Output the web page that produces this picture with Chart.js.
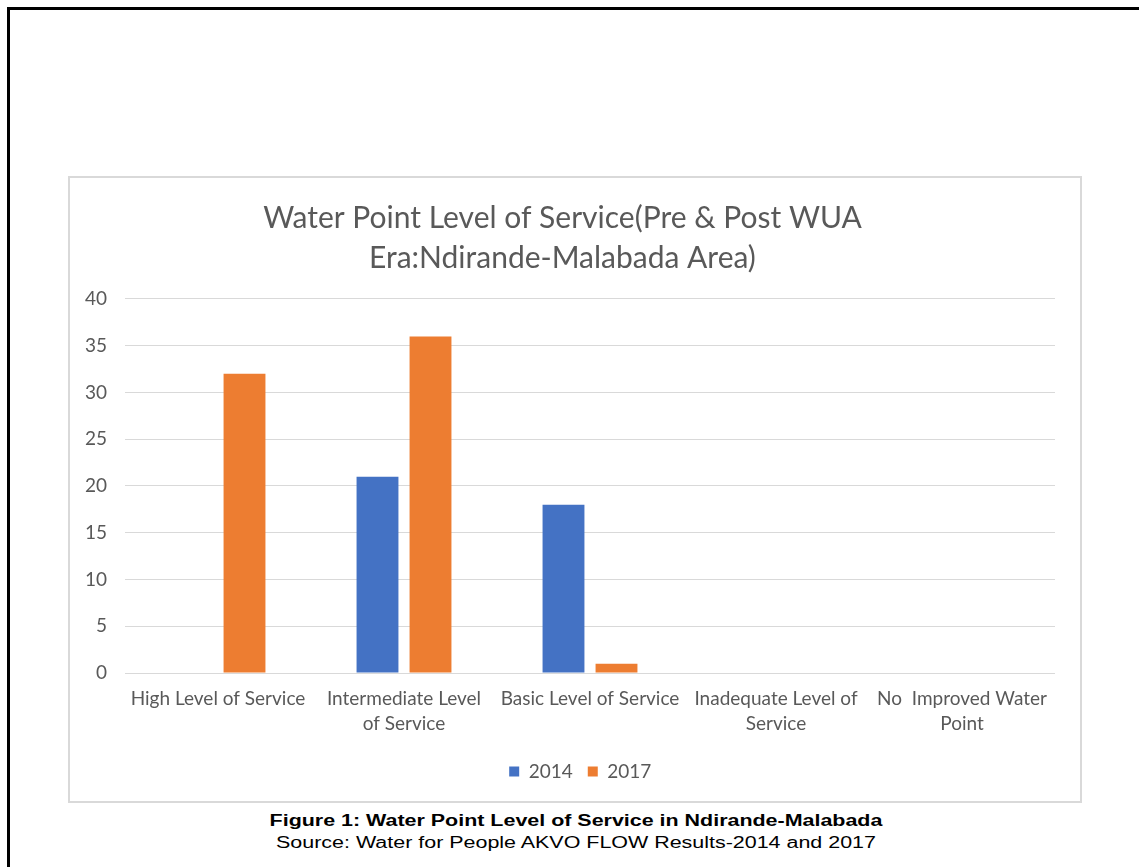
<!DOCTYPE html>
<html>
<head>
<meta charset="utf-8">
<script src="https://cdn.jsdelivr.net/npm/chart.js@4.4.0/dist/chart.umd.min.js"></script>
<style>
  body { margin: 0; background: #fff; width: 1139px; height: 867px; overflow: hidden; position: relative; }
  #frame { position: absolute; left: 7px; top: 7px; width: 1140px; height: 870px; border-top: 3px solid #000; border-left: 3px solid #000; }
  #box { position: absolute; left: 68px; top: 176px; width: 1010px; height: 623px; border: 2px solid #d9d9d9; }
  #caption { position: absolute; left: 0; width: 1152px; top: 810px; text-align: center; font-family: "Liberation Sans", Arial, sans-serif; color: #000; transform: scaleX(1.34); transform-origin: 576px 0; }
  #caption .fig { font-weight: bold; font-size: 16px; line-height: 22px; }
  #caption .src { font-size: 16px; line-height: 22px; }
</style>
</head>
<body>
<div id="frame"></div>
<div id="box"><canvas id="chart" width="1010" height="623"></canvas></div>
<div id="caption">
  <div class="fig">Figure 1: Water Point Level of Service in Ndirande-Malabada</div>
  <div class="src">Source: Water for People AKVO FLOW Results-2014 and 2017</div>
</div>
<script>
// categories (multi-line labels as Excel wrapped them)
const categories = [
  ['High Level of Service'],
  ['Intermediate Level', 'of Service'],
  ['Basic Level of Service'],
  ['Inadequate Level of', 'Service'],
  ['No  Improved Water', 'Point']
];
const values2014 = [0, 21, 18, 0, 0];
const values2017 = [32, 36, 1, 0, 0];
const titleLines = ['Water Point Level of Service(Pre & Post WUA', 'Era:Ndirande-Malabada Area)'];

const grey = '#595959';

new Chart(document.getElementById('chart'), {
    type: 'bar',
    data: {
        labels: categories,
        datasets: [
            { label: '2014', data: values2014, backgroundColor: '#4472c4' },
            // trailing spaces nudge the centred legend row a bit to the left
            { label: '2017    ', data: values2017, backgroundColor: '#ed7d31' }
        ]
    },
    options: {
        responsive: false,
        animation: false,
        datasets: {
            bar: { categoryPercentage: 0.57, barPercentage: 0.79 }
        },
        layout: { padding: { left: 0, right: 25, bottom: 10 } },
        scales: {
            x: {
                grid: { display: false, drawTicks: false },
                border: { display: false },
                ticks: {
                    color: grey, maxRotation: 0, autoSkip: false, padding: 13,
                    font: { family: 'Lato', size: 19, lineHeight: 1.316 }
                },
                afterFit: function (scale) { scale.height = 74; }
            },
            y: {
                min: 0, max: 40,
                grid: { color: '#d9d9d9', drawTicks: false },
                border: { display: false },
                ticks: {
                    stepSize: 5, color: grey, padding: 18,
                    font: { family: 'Lato', size: 19 }
                },
                afterFit: function (scale) { scale.width = 55; }
            }
        },
        plugins: {
            title: {
                display: true,
                text: titleLines,
                color: grey,
                font: { family: 'Lato', size: 30, weight: 'normal', lineHeight: 1.333 },
                padding: { top: 20, bottom: 21 }
            },
            legend: {
                position: 'bottom',
                fullSize: false,
                labels: {
                    boxWidth: 10, boxHeight: 10, padding: 15, color: grey,
                    font: { family: 'Lato', size: 19 }
                }
            },
            tooltip: { enabled: false }
        }
    }
});
</script>
</body>
</html>
